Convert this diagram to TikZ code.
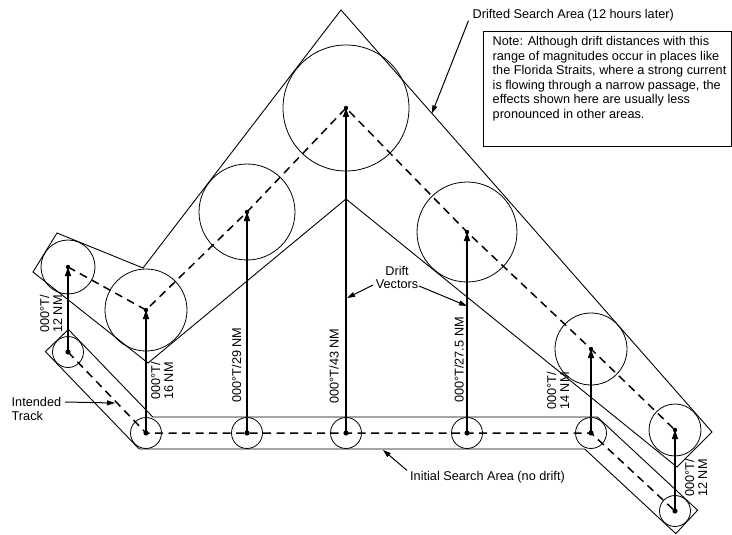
\documentclass[tikz,border=0pt]{standalone}
\usepackage{fontspec}
\setmainfont{Liberation Sans}
\usetikzlibrary{arrows.meta,calc}
\begin{document}
\begin{tikzpicture}[x=1pt,y=-1pt,
  area/.style={draw=black,line width=0.9pt,line join=miter},
  ring/.style={draw=black,line width=0.8pt},
  track/.style={draw=black,line width=1.5pt,dash pattern=on 8pt off 5.5pt},
  vec/.style={draw=black,line width=1.5pt,-{Triangle[length=9pt,width=6pt]}},
  lbl/.style={font=\fontsize{12.7}{13}\selectfont,inner sep=0pt},
  vlbl/.style={lbl,rotate=90,align=center},
  lead/.style={draw=black,line width=1pt,-{Triangle[length=8pt,width=5pt]}},
]
\useasboundingbox (0,0) rectangle (732,535);
% track points
\coordinate (P1) at (68,352);
\coordinate (P2) at (146,433);
\coordinate (P3) at (247,433);
\coordinate (P4) at (346,433);
\coordinate (P5) at (467,433);
\coordinate (P6) at (591,433);
\coordinate (P7) at (675,511);
\coordinate (D1) at (68,267);
\coordinate (D2) at (146,310);
\coordinate (D3) at (247,212);
\coordinate (D4) at (346,108);
\coordinate (D5) at (467,232);
\coordinate (D6) at (591,349);
\coordinate (D7) at (675,430);
% initial search area
\draw[area] (68.4,329.4) -- (152.8,417) -- (597.3,417) -- (697.6,510.2)
  -- (675.8,533.6) -- (584.7,449) -- (139.2,449) -- (45.4,351.6) -- cycle;
% drifted search area
\coordinate (A) at (341,10);
\coordinate (B) at (712,432);
\draw[area] (A) -- (B) -- (677,467) -- (346,199) -- (148,363) -- (33,272)
  -- (57,233) -- (143,268) -- cycle;
% circles
\foreach \p in {P1,P2,P3,P4,P5,P6,P7} \draw[ring] (\p) circle[radius=15.5pt];
\draw[ring] (D1) circle[radius=27pt];
\draw[ring] (D2) circle[radius=41pt];
\draw[ring] (D3) circle[radius=48pt];
\draw[ring] (D4) circle[radius=63pt];
\draw[ring] (D5) circle[radius=50pt];
\draw[ring] (D6) circle[radius=36pt];
\draw[ring] (D7) circle[radius=26pt];
% tracks
\draw[track] (P1) -- (P2) -- (P3) -- (P4) -- (P5) -- (P6) -- (P7);
\draw[track] (D1) -- (D2) -- (D3) -- (D4) -- (D5) -- (D6) -- (D7);
% drift vectors
\foreach \i in {1,...,7} {
  \draw[vec] (P\i) -- (D\i);
  \fill (P\i) circle (2.6pt);
  \fill (D\i) circle (2.2pt);
}
% vector labels
\node[vlbl] (l1) at (51,314) {000°T/\\12 NM};
\node[vlbl] (l2) at (162,381) {000°T/\\16 NM};
\node[vlbl] (l3) at (236.7,365) {000°T/29 NM};
\node[vlbl] (l4) at (334,366) {000°T/43 NM};
\node[vlbl] (l5) at (459,360) {000°T/27.5 NM};
\node[vlbl] (l6) at (558,391) {000°T/\\14 NM};
\node[vlbl] (l7) at (696,478) {000°T/\\12 NM};
% drift vectors label
\node[lbl,align=center] (dv) at (397,277) {Drift\\Vectors};
\coordinate (dvl) at (373,285);
\coordinate (dvr) at (419,286);
\coordinate (dvlt) at (347,298);
\coordinate (dvrt) at (467,306);
\draw[lead] (dvl) -- (dvlt);
\draw[lead] (dvr) -- (dvrt);
% intended track
\node[lbl,align=left,anchor=north west,font=\fontsize{12.7}{13.5}\selectfont] (it) at (11.5,397.5) {Intended\\Track};
\coordinate (its) at (65,402);
\coordinate (itt) at (115,403);
\draw[lead] (its) -- (itt);
% initial search area label
\node[lbl,anchor=west] (isa) at (410,477.5) {Initial Search Area (no drift)};
\coordinate (isat) at (383,450);
\draw[lead] ([xshift=-3pt,yshift=1pt]isa.north west) -- (isat);
% drifted search area label
\node[lbl,anchor=west] (dsa) at (472.5,15.5) {Drifted Search Area (12 hours later)};
\coordinate (dsat) at ($(A)!0.245!(B)$);
\draw[lead] ([xshift=-4pt,yshift=1pt]dsa.south west) -- (dsat);
% note
\draw[line width=0.9pt] (483,31) rectangle (731,146);
\node[lbl,align=left,anchor=north west,font=\fontsize{12.7}{14.5}\selectfont] (note) at (492.5,36.5)
 {Note: Although drift distances with this\\
  range of magnitudes occur in places like\\
  the Florida Straits, where a strong current\\
  is flowing through a narrow passage, the\\
  effects shown here are usually less\\
  pronounced in other areas.};
\end{tikzpicture}
\end{document}
